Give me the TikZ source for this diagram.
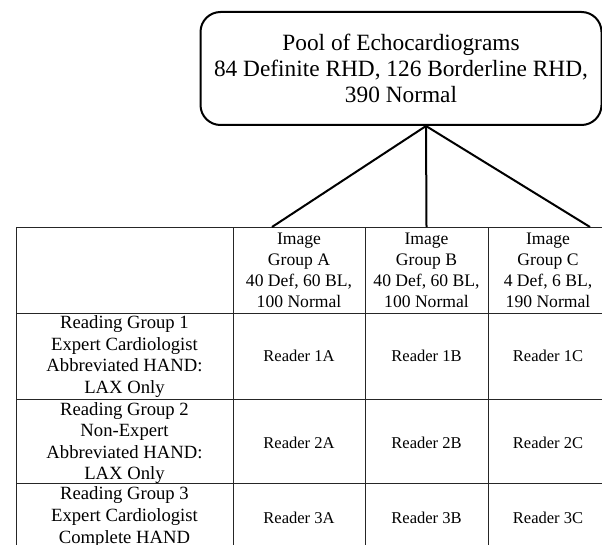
\documentclass[tikz,border=0pt]{standalone}
\usepackage{fontspec}
\setmainfont{Liberation Serif}
\usetikzlibrary{calc}

\begin{document}
\begin{tikzpicture}[x=0.75pt, y=-0.75pt,
    every node/.style={inner sep=0pt, align=center},
    poolbox/.style={draw, line width=1.5pt, rounded corners=15pt,
      minimum width=300.75pt, minimum height=84.75pt,
      font=\fontsize{17.5}{19.5}\selectfont},
    head/.style={font=\fontsize{13.2}{15.75}\selectfont},
    cell/.style={font=\fontsize{14}{16.2}\selectfont},
    reader/.style={font=\fontsize{12.4}{14}\selectfont},
    rule/.style={line width=0.7pt, black!85},
    link/.style={line width=1.5pt}]
  \useasboundingbox (0,0) rectangle (602,545);
  % pool
  \node[poolbox] (pool) at (401,68.5) {Pool of Echocardiograms\\84 Definite RHD, 126 Borderline RHD,\\390 Normal};
  % table rules
  \foreach \y in {227,313,399,483}
    \draw[rule] (16,\y) -- (602,\y);
  \foreach \x in {16,233,365,488}
    \draw[rule] (\x,227) -- (\x,545);
  % image groups
  \node[head] (imgA) at (299,270.5) {Image\\Group A\\40 Def, 60 BL,\\100 Normal};
  \node[head] (imgB) at (426.5,270.5) {Image\\Group B\\40 Def, 60 BL,\\100 Normal};
  \node[head] (imgC) at (548,270.5) {Image\\Group C\\4 Def, 6 BL,\\190 Normal};
  % reading groups
  \node[cell] (grp1) at (124.5,356.5) {Reading Group 1\\Expert Cardiologist\\Abbreviated HAND:\\LAX Only};
  \node[cell] (grp2) at (124.5,443) {Reading Group 2\\Non-Expert\\Abbreviated HAND:\\LAX Only};
  \node[cell] (grp3) at (124.5,517) {Reading Group 3\\Expert Cardiologist\\Complete HAND};
  % readers
  \foreach \r/\y in {1/356,2/443,3/518}
    \foreach \c/\x in {A/299,B/426.5,C/548}
      \node[reader] (r\r\c) at (\x,\y) {Reader \r\c};
  % links
  \coordinate (apex) at ($(pool.south)+(25,0)$);
  \coordinate (topA) at (272,227);
  \coordinate (topB) at (426.5,227);
  \coordinate (topC) at (590,227);
  \draw[link] (apex) -- (topA);
  \draw[link] (apex) -- (topB);
  \draw[link] (apex) -- (topC);
\end{tikzpicture}
\end{document}
